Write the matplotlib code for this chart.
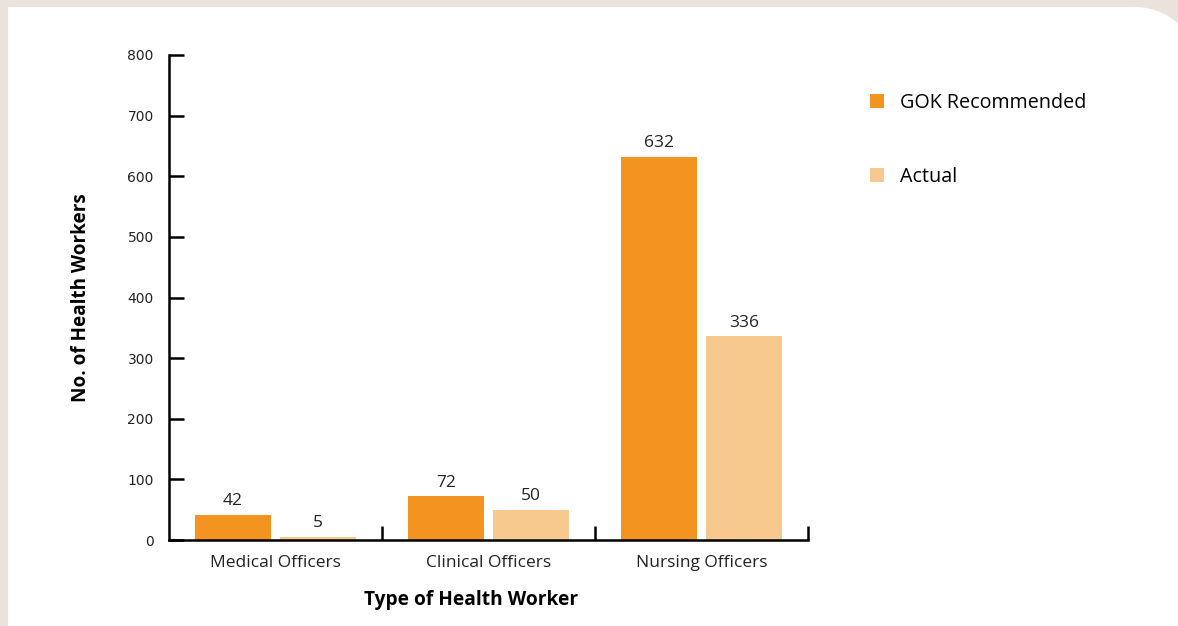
import matplotlib
matplotlib.use("Agg")
import matplotlib.pyplot as plt
from matplotlib.patches import Polygon
import numpy as np

categories = ['Medical Officers', 'Clinical Officers', 'Nursing Officers']
gok_recommended = [42, 72, 632]
actual = [5, 50, 336]
y_ticks = [0, 100, 200, 300, 400, 500, 600, 700, 800]

c_gok = '#F39320'
c_actual = '#F8C98F'

plt.rcParams['font.family'] = ['Open Sans', 'DejaVu Sans']

W, H = 1178, 626
fig = plt.figure(figsize=(W / 100, H / 100), dpi=100)
fig.patch.set_facecolor('#E9E3DC')

# white panel, only the top-right corner is rounded (pixel coords in a background axes)
bg = fig.add_axes([0, 0, 1, 1], zorder=-10)
bg.set_xlim(0, W)
bg.set_ylim(0, H)
bg.axis('off')
r = 65
cx, cy = 1200 - r, (H - 7) - r
t = np.linspace(np.pi / 2, 0, 30)
arc = np.column_stack([cx + r * np.cos(t), cy + r * np.sin(t)])
pts = np.vstack([[[8, -20], [8, H - 7]], arc, [[1200, -20]]])
bg.add_patch(Polygon(pts, closed=True, facecolor='white', edgecolor='none'))

ax = fig.add_axes([169 / W, 86 / H, (808 - 169) / W, (571 - 86) / H])
ax.set_facecolor('none')

x = np.arange(len(categories))
w = 0.36
b1 = ax.bar(x + 0.3, gok_recommended, w, color=c_gok, label='GOK Recommended', zorder=2)
b2 = ax.bar(x + 0.7, actual, w, color=c_actual, label='Actual', zorder=2)

for bars in (b1, b2):
    for rect in bars:
        h = rect.get_height()
        ax.annotate(f'{h:.0f}', (rect.get_x() + rect.get_width() / 2, h),
                    xytext=(0, 4), textcoords='offset points',
                    ha='center', va='bottom', fontsize=12.5, color='#222222')

ax.set_xlim(0, 3)
ax.set_ylim(0, 800)

for s in ['top', 'right']:
    ax.spines[s].set_visible(False)
for s in ['left', 'bottom']:
    ax.spines[s].set_linewidth(1.8)
    ax.spines[s].set_color('black')
    ax.spines[s].set_zorder(3)

ax.set_yticks(y_ticks)
ax.set_yticklabels([str(v) for v in y_ticks], family=['Liberation Sans Narrow', 'DejaVu Sans'])
ax.tick_params(axis='y', direction='in', length=11, width=1.8, pad=11, labelsize=10,
               labelcolor='#222222')

ax.set_xticks(x + 0.5)
ax.set_xticklabels(categories)
ax.tick_params(axis='x', which='major', length=0, pad=11, labelsize=12.5, labelcolor='#222222')
ax.set_xticks([1, 2, 3], minor=True)
ax.tick_params(axis='x', which='minor', direction='in', length=10, width=1.8)

ax.set_xlabel('Type of Health Worker', fontsize=13.8, fontweight='bold')
ax.xaxis.set_label_coords(0.473, -0.103)
ax.set_ylabel('No. of Health Workers', fontsize=13.6, fontweight='bold')
ax.yaxis.set_label_coords(-0.122, 0.5)

fig.legend(loc='upper left', bbox_to_anchor=(862 / W, 1 - 85 / H), frameon=False,
           fontsize=14.2, handlelength=0.74, handleheight=0.74, handletextpad=0.8,
           labelspacing=2.75, borderaxespad=0)

fig.savefig('out.png', dpi=100)
